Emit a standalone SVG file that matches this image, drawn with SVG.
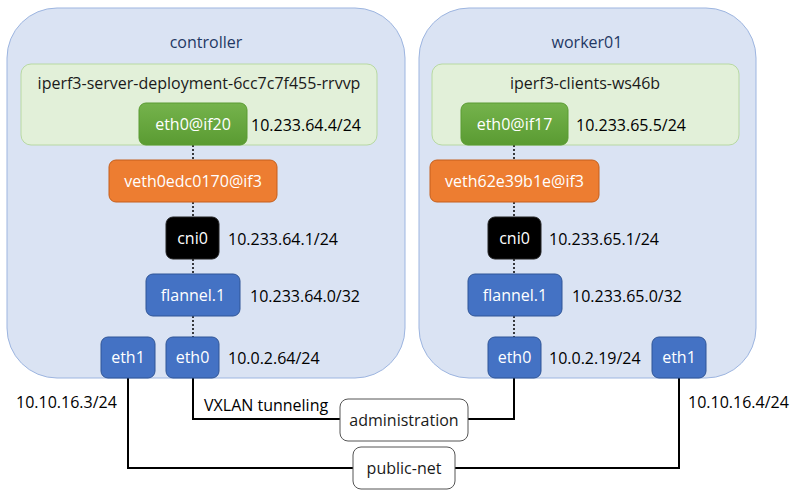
<svg xmlns="http://www.w3.org/2000/svg" width="800" height="497" viewBox="0 0 800 497">
<defs>
<linearGradient id="gg" x1="0" y1="0" x2="0" y2="1"><stop offset="0" stop-color="#75b34c"/><stop offset="1" stop-color="#5a9b32"/></linearGradient>
<style>
text{font-family:"Open Sans","Liberation Sans",sans-serif;font-size:16px;}
.host{fill:#dae3f3;stroke:#9db5e0;stroke-width:1;}
.pod{fill:#e2f0d9;stroke:#b8d9a2;stroke-width:1;}
.green{fill:url(#gg);stroke:#5a9b32;}
.orange{fill:#ed7d31;stroke:#c55f1c;}
.blue{fill:#4472c4;stroke:#2f5597;}
.black{fill:#000;stroke:#222;}
.net{fill:#fff;stroke:#555;}
.lbl{fill:#fff;text-anchor:middle;dominant-baseline:central;}
.ip{fill:#000;dominant-baseline:central;}
.title{fill:#1f3864;text-anchor:middle;dominant-baseline:central;}
.podt{fill:#1a1a1a;text-anchor:middle;dominant-baseline:central;}
.dot{stroke:#000;stroke-width:1.5;stroke-dasharray:2 2;fill:none;}
.wire{stroke:#000;stroke-width:2;fill:none;}
</style>
</defs>
<g id="controller">
<rect class="host" x="7" y="8" width="398" height="370" rx="50"/>
<text class="title" x="206" y="42">controller</text>
</g>
<g id="worker01">
<rect class="host" x="419" y="8" width="337" height="370" rx="50"/>
<text class="title" x="587" y="42">worker01</text>
</g>
<g id="pod-server">
<rect class="pod" x="21" y="64" width="356" height="81" rx="10"/>
<text class="podt" x="199" y="83">iperf3-server-deployment-6cc7c7f455-rrvvp</text>
</g>
<g id="pod-client">
<rect class="pod" x="432" y="64" width="307" height="81" rx="10"/>
<text class="podt" x="585" y="83">iperf3-clients-ws46b</text>
</g>
<g id="connectors">
<line class="dot" x1="193" y1="145" x2="193" y2="160"/>
<line class="dot" x1="193" y1="202" x2="193" y2="217"/>
<line class="dot" x1="193" y1="259" x2="193" y2="274"/>
<line class="dot" x1="193" y1="316" x2="193" y2="337"/>
<line class="dot" x1="514" y1="145" x2="514" y2="160"/>
<line class="dot" x1="514" y1="202" x2="514" y2="217"/>
<line class="dot" x1="514" y1="259" x2="514" y2="274"/>
<line class="dot" x1="514" y1="316" x2="514" y2="337"/>
<polyline class="wire" points="193,378 193,419 340,419"/>
<polyline class="wire" points="514,378 514,419 468,419"/>
<polyline class="wire" points="128,378 128,468 353,468"/>
<polyline class="wire" points="679,378 679,468 455,468"/>
<text class="ip" x="204" y="405">VXLAN tunneling</text>
</g>
<g id="c-eth0if20">
<rect class="green" x="139" y="103" width="108" height="42" rx="7"/>
<text class="lbl" x="193" y="124">eth0@if20</text>
<text class="ip" x="251" y="125">10.233.64.4/24</text>
</g>
<g id="c-veth">
<rect class="orange" x="109" y="160" width="168" height="42" rx="7"/>
<text class="lbl" x="193" y="181">veth0edc0170@if3</text>
</g>
<g id="c-cni0">
<rect class="black" x="166" y="217" width="53" height="42" rx="7"/>
<text class="lbl" x="192.5" y="238">cni0</text>
<text class="ip" x="228" y="239">10.233.64.1/24</text>
</g>
<g id="c-flannel">
<rect class="blue" x="146" y="274" width="94" height="42" rx="7"/>
<text class="lbl" x="193" y="295">flannel.1</text>
<text class="ip" x="250" y="296">10.233.64.0/32</text>
</g>
<g id="c-eth1">
<rect class="blue" x="101" y="337" width="54" height="41" rx="7"/>
<text class="lbl" x="128" y="357">eth1</text>
<text class="ip" x="16" y="402">10.10.16.3/24</text>
</g>
<g id="c-eth0">
<rect class="blue" x="166" y="337" width="53" height="41" rx="7"/>
<text class="lbl" x="192.5" y="357">eth0</text>
<text class="ip" x="228" y="358">10.0.2.64/24</text>
</g>
<g id="w-eth0if17">
<rect class="green" x="461" y="103" width="107" height="42" rx="7"/>
<text class="lbl" x="514.5" y="124">eth0@if17</text>
<text class="ip" x="576" y="125">10.233.65.5/24</text>
</g>
<g id="w-veth">
<rect class="orange" x="430" y="160" width="169" height="42" rx="7"/>
<text class="lbl" x="514.5" y="181">veth62e39b1e@if3</text>
</g>
<g id="w-cni0">
<rect class="black" x="488" y="217" width="53" height="42" rx="7"/>
<text class="lbl" x="514.5" y="238">cni0</text>
<text class="ip" x="549" y="239">10.233.65.1/24</text>
</g>
<g id="w-flannel">
<rect class="blue" x="468" y="274" width="94" height="42" rx="7"/>
<text class="lbl" x="515" y="295">flannel.1</text>
<text class="ip" x="572" y="296">10.233.65.0/32</text>
</g>
<g id="w-eth0">
<rect class="blue" x="488" y="337" width="53" height="41" rx="7"/>
<text class="lbl" x="514.5" y="357">eth0</text>
<text class="ip" x="549" y="358">10.0.2.19/24</text>
</g>
<g id="w-eth1">
<rect class="blue" x="652" y="337" width="54" height="41" rx="7"/>
<text class="lbl" x="679" y="357">eth1</text>
<text class="ip" x="688" y="402">10.10.16.4/24</text>
</g>
<g id="administration">
<rect class="net" x="340" y="399" width="128" height="42" rx="8"/>
<text class="podt" x="404" y="420">administration</text>
</g>
<g id="public-net">
<rect class="net" x="353" y="447" width="102" height="42" rx="8"/>
<text class="podt" x="404" y="468">public-net</text>
</g>
</svg>
